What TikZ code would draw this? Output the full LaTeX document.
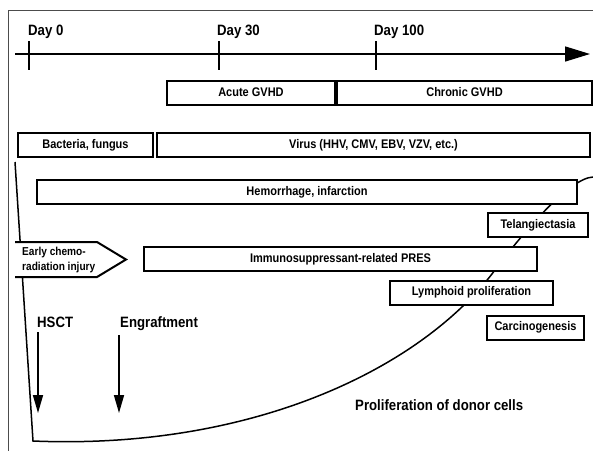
\documentclass[tikz,border=0pt]{standalone}
\usepackage{fontspec}
\setmainfont{Liberation Sans}[FakeStretch=0.88]
\usetikzlibrary{arrows.meta,calc,positioning}

\begin{document}
\begin{tikzpicture}[x=1pt, y=-1pt,
    period/.style={draw, line width=2pt, fill=white, inner sep=0pt, minimum height=24pt,
      font=\fontsize{12.5}{14}\selectfont\bfseries},
    tag/.style={inner sep=0pt, anchor=base west, font=\fontsize{15}{17}\selectfont\bfseries},
    event/.style={line width=1.6pt, -{Triangle[length=18pt,width=10pt]}}]
        \useasboundingbox (0,0) rectangle (593,451);

        % frame
        \draw[line width=0.8pt, black!70] (593,10) -- (8,10) -- (8,451);

        % time axis
        \coordinate (axisL) at (15,54);
        \coordinate (axisR) at (590,54);
        \draw[line width=1.5pt, -{Triangle[length=25pt,width=15pt]}] (axisL) -- (axisR);
        \node[tag] (day0) at (28,35) {Day 0};
        \node[tag] (day30) at (217,35) {Day 30};
        \node[tag] (day100) at (374,35) {Day 100};
        \draw[line width=1.5pt] (29,41) -- (29,70);
        \draw[line width=1.5pt] (219,41) -- (219,70);
        \draw[line width=1.5pt] (376,41) -- (376,70);

        % donor cells curve
        \coordinate (curveTop) at (15,162);
        \coordinate (curveLow) at (33,441);
        \coordinate (curveMid) at (495,270);
        \coordinate (curveEnd) at (593,177);
        \draw[line width=1.5pt] (curveTop) -- (curveLow)
            .. controls (250,450) and (420,370) .. (curveMid)
            .. controls (525,230) and (570,178) .. (curveEnd);

        % periods
        \node[period, minimum width=168pt] (acute) at (251,92.5) {Acute GVHD};
        \node[period, minimum width=255pt, right=0pt of acute] (chronic) {Chronic GVHD};
        \node[period, minimum width=135pt] (bact) at (85.5,145) {Bacteria, fungus};
        \node[period, minimum width=433pt] (virus) at (373.5,145) {Virus (HHV, CMV, EBV, VZV, etc.)};
        \node[period, minimum width=540pt] (hemo) at (307,192) {Hemorrhage, infarction};
        \node[period, minimum width=100pt] (telang) at (538,225) {Telangiectasia};
        \node[period, minimum width=393pt] (pres) at (340.5,259) {Immunosuppressant-related PRES};
        \node[period, minimum width=163pt] (lymph) at (471.5,292.5) {Lymphoid proliferation};
        \node[period, minimum width=97pt] (carc) at (535.5,327.5) {Carcinogenesis};

        % early injury (open on the left)
        \fill[white] (15,242) -- (97,242) -- (126,259.5) -- (97,277) -- (15,277) -- cycle;
        \draw[line width=2pt] (15,242) -- (97,242) -- (126,259.5) -- (97,277) -- (15,277);
        \node[inner sep=0pt, anchor=west, align=left, font=\fontsize{11.5}{15}\selectfont\bfseries]
            (early) at (22,260) {Early chemo-\\radiation injury};

        % events
        \node[tag] (hsct) at (37,327) {HSCT};
        \node[tag] (engraft) at (120,327) {Engraftment};
        \coordinate (hsctEnd) at (38,413);
        \coordinate (engraftEnd) at (119,413);
        \draw[event] ($(hsct.south west)+(1,5)$) -- (hsctEnd);
        \draw[event] ($(engraft.south west)+(-1,5)$) -- (engraftEnd);

        \node[tag] (donor) at (355,410) {Proliferation of donor cells};
    \end{tikzpicture}
\end{document}
